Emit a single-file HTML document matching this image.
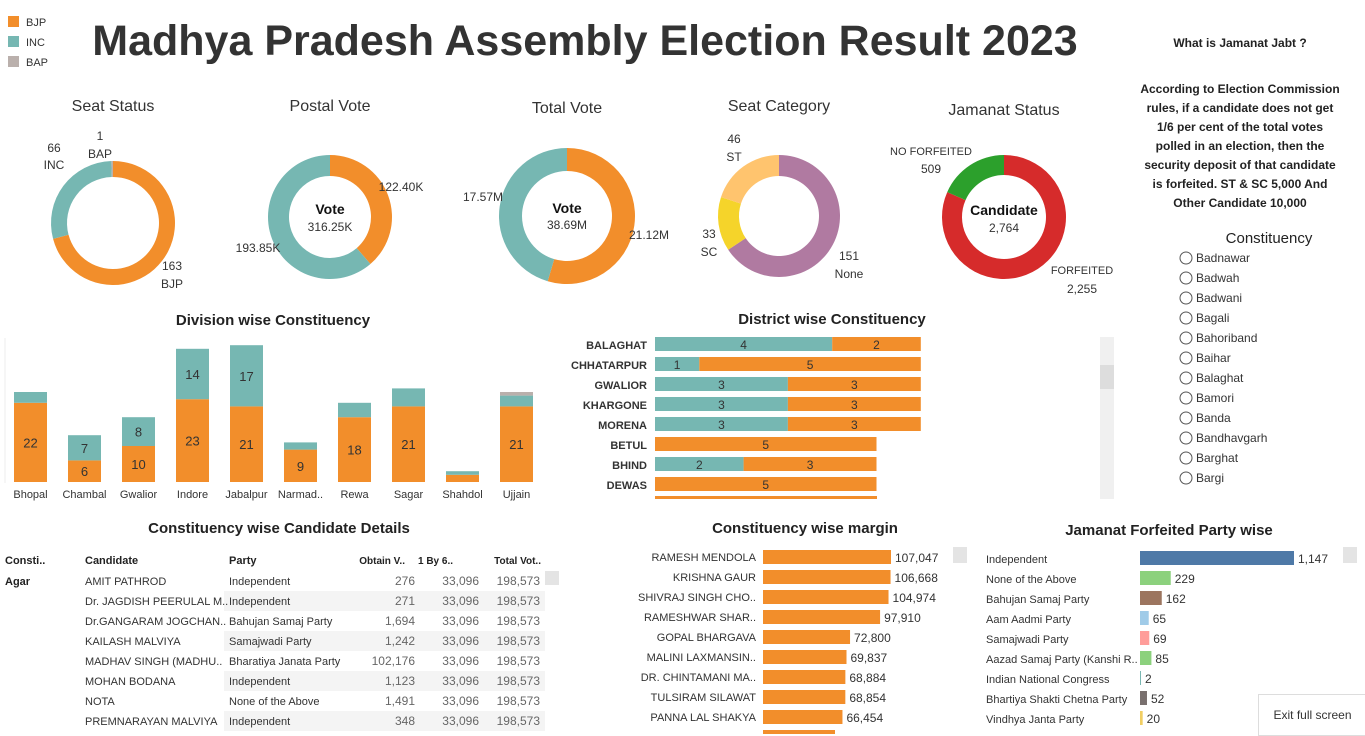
<!DOCTYPE html>
<html><head><meta charset="utf-8"><style>
body{margin:0;width:1365px;height:734px;background:#fff;font-family:"Liberation Sans",sans-serif;position:relative;overflow:hidden;color:#333}
.a{position:absolute}
</style></head><body>
<svg id="s" class="a" style="left:0;top:0" width="1365" height="734"></svg>
<div class="a" style="left:1258px;top:694px;width:107px;height:40px;border:1px solid #ddd;background:#fff;font-size:12px;line-height:40px;text-align:center">Exit full screen</div>
<script>
const divCats=["Bhopal","Chambal","Gwalior","Indore","Jabalpur","Narmad..","Rewa","Sagar","Shahdol","Ujjain"];
const divBJP=[22,6,10,23,21,9,18,21,2,21];
const divINC=[3,7,8,14,17,2,4,5,1,3];
const divBAP=[0,0,0,0,0,0,0,0,0,1];
const distCats=["BALAGHAT","CHHATARPUR","GWALIOR","KHARGONE","MORENA","BETUL","BHIND","DEWAS"];
const distINC=[4,1,3,3,3,0,2,0];
const distBJP=[2,5,3,3,3,5,3,5];
const marNames=["RAMESH MENDOLA","KRISHNA GAUR","SHIVRAJ SINGH CHO..","RAMESHWAR SHAR..","GOPAL BHARGAVA","MALINI LAXMANSIN..","DR. CHINTAMANI MA..","TULSIRAM SILAWAT","PANNA LAL SHAKYA"];
const marVals=[107047,106668,104974,97910,72800,69837,68884,68854,66454];
const jamParties=["Independent","None of the Above","Bahujan Samaj Party","Aam Aadmi Party","Samajwadi Party","Aazad Samaj Party (Kanshi R..","Indian National Congress","Bhartiya Shakti Chetna Party","Vindhya Janta Party"];
const jamVals=[1147,229,162,65,69,85,2,52,20];
const jamColors=["#4e79a7","#8cd17d","#9c755f","#a0cbe8","#ff9d9a","#8cd17d","#79b7b2","#79706e","#f1ce63"];
const seatVals=[163,66,1];
const postalVals=[122.40,193.85];
const totalVals=[21.12,17.57];
const catVals=[151,33,46];
const jamStatus=[2255,509];
const rows=[["AMIT PATHROD","Independent",276],["Dr. JAGDISH PEERULAL M..","Independent",271],["Dr.GANGARAM JOGCHAN..","Bahujan Samaj Party",1694],["KAILASH MALVIYA","Samajwadi Party",1242],["MADHAV SINGH (MADHU..","Bharatiya Janata Party",102176],["MOHAN BODANA","Independent",1123],["NOTA","None of the Above",1491],["PREMNARAYAN MALVIYA","Independent",348]];
const constituencies=["Badnawar","Badwah","Badwani","Bagali","Bahoriband","Baihar","Balaghat","Bamori","Banda","Bandhavgarh","Barghat","Bargi"];
const O="#f28e2b",T="#76b7b2",G="#bab0ac";
const s=document.getElementById('s');const NS="http://www.w3.org/2000/svg";
function el(tag,at,name,txt){const e=document.createElementNS(NS,tag);for(const k in at)e.setAttribute(k,at[k]);


if(txt!==undefined)e.textContent=txt;s.appendChild(e);return e;}
function tx(x,y,t,sz,anc,name,w,col){return el('text',{x,y,'font-size':sz||12,'text-anchor':anc||'start',fill:col||'#333','font-weight':w||'normal'},name||'label',t);}
const fmt=v=>v.toLocaleString('en-US');
tx(585,55,"Madhya Pradesh Assembly Election Result 2023",43,'middle','dashboard-title','bold','#333');
[["BJP",O],["INC",T],["BAP",G]].forEach((l,i)=>{el('rect',{x:8,y:16+i*20,width:11,height:11,fill:l[1]},'legend-swatch-'+l[0]);tx(26,26+i*20,l[0],11,'start','legend-entry-'+l[0]);});
function donut(cx,cy,ro,ri,vals,cols,name,start){const tot=vals.reduce((a,b)=>a+b,0);let a=start||0;vals.forEach((v,i)=>{const a2=a+v/tot*2*Math.PI;const p=(r,t)=>[cx+r*Math.sin(t),cy-r*Math.cos(t)];const L=a2-a>Math.PI?1:0;const[x1,y1]=p(ro,a),[x2,y2]=p(ro,a2),[x3,y3]=p(ri,a2),[x4,y4]=p(ri,a);
el('path',{d:`M${x1},${y1}A${ro},${ro} 0 ${L} 1 ${x2},${y2}L${x3},${y3}A${ri},${ri} 0 ${L} 0 ${x4},${y4}Z`,fill:cols[i]},name+'-slice-'+i);a=a2;});}
tx(113,111,"Seat Status",16,'middle','seat-status-title');
donut(113,223,62,46,seatVals,[O,T,G],'seat-status');
tx(172,270,"163",12,'middle');tx(172,288,"BJP",12,'middle');tx(54,152,"66",12,'middle');tx(54,169,"INC",12,'middle');tx(100,140,"1",12,'middle');tx(100,158,"BAP",12,'middle');
tx(330,111,"Postal Vote",16,'middle','postal-vote-title');
donut(330,217,62,41,postalVals,[O,T],'postal-vote');
tx(330,214,"Vote",14,'middle','','bold','#111');tx(330,231,"316.25K",12,'middle');tx(401,191,"122.40K",12,'middle');tx(258,252,"193.85K",12,'middle');
tx(567,113,"Total Vote",16,'middle','total-vote-title');
donut(567,216,68,45,totalVals,[O,T],'total-vote');
tx(567,213,"Vote",14,'middle','','bold','#111');tx(567,229,"38.69M",12,'middle');tx(649,239,"21.12M",12,'middle');tx(483,201,"17.57M",12,'middle');
tx(779,111,"Seat Category",16,'middle','seat-category-title');
donut(779,216,61,40,catVals,["#b07aa1","#f5d42a","#ffc46e"],'seat-category');
tx(849,260,"151",12,'middle');tx(849,278,"None",12,'middle');tx(709,238,"33",12,'middle');tx(709,256,"SC",12,'middle');tx(734,143,"46",12,'middle');tx(734,161,"ST",12,'middle');
tx(1004,115,"Jamanat Status",16,'middle','jamanat-status-title');
donut(1004,217,62,42,jamStatus,["#d62b2b","#2ca02c"],'jamanat-status');
tx(1004,215,"Candidate",14,'middle','','bold','#111');tx(1004,232,"2,764",12,'middle');tx(931,155,"NO FORFEITED",11,'middle');tx(931,173,"509",12,'middle');tx(1082,274,"FORFEITED",11,'middle');tx(1082,293,"2,255",12,'middle');
tx(1240,47,"What is Jamanat Jabt ?",12,'middle','info-title','bold','#222');
["According to Election Commission","rules, if a candidate does not get","1/6 per cent of the total votes","polled in an election, then the","security deposit of that candidate","is forfeited. ST & SC 5,000 And","Other Candidate 10,000"].forEach((l,i)=>tx(1240,93+i*19,l,12,'middle','info-text','bold','#222'));
tx(1269,243,"Constituency",15,'middle','constituency-filter-title','normal','#222');
constituencies.forEach((c,i)=>{const c1=el('circle',{cx:1186,cy:258+i*20,r:6,fill:'#fff',stroke:'#555'},'radio-'+c);tx(1196,262+i*20,c,12,'start','constituency-option');});
tx(273,325,"Division wise Constituency",15,'middle','division-chart-title','bold','#222');
const dBase=482,dSc=3.6,dX0=14,dStep=54,dW=33;
el('line',{x1:5,y1:338,x2:5,y2:483,stroke:'#eee'},'y-axis');
divCats.forEach((c,i)=>{const x=dX0+i*dStep;let y=dBase;[[divBJP[i],O],[divINC[i],T],[divBAP[i],G]].forEach((p,k)=>{const h=p[0]*dSc;if(!h)return;el('rect',{x,y:y-h,width:dW,height:h,fill:p[1]},'division-bar-'+c);if(p[0]>=6)tx(x+dW/2,y-h/2+5,p[0],13,'middle','bar-value');y-=h;});tx(x+dW/2,498,c,11,'middle','x-axis-label');});
tx(832,324,"District wise Constituency",15,'middle','district-chart-title','bold','#222');
const sX0=655,sSc=44.3;
distCats.forEach((c,i)=>{const y=337+i*20;tx(647,y+12,c,11,'end','district-label','bold','#333');let x=sX0;[[distINC[i],T],[distBJP[i],O]].forEach(p=>{const w=p[0]*sSc;if(!w)return;el('rect',{x,y,width:w,height:14,fill:p[1]},'district-bar-'+c);tx(x+w/2,y+12,p[0],12,'middle','bar-value');x+=w;});});
el('rect',{x:sX0,y:496,width:222,height:3,fill:O},'district-bar-partial');
el('rect',{x:1100,y:337,width:14,height:162,fill:'#f0f0f0'},'district-scrollbar');el('rect',{x:1100,y:365,width:14,height:24,fill:'#ddd'},'district-scroll-thumb');
tx(279,533,"Constituency wise Candidate Details",15,'middle','candidate-table-title','bold','#222');
[["Consti..",5],["Candidate",85],["Party",229]].forEach(h=>tx(h[1],564,h[0],11,'start','table-header','bold','#222'));
tx(405,564,"Obtain V..",10,'end','table-header','bold','#222');tx(418,564,"1 By 6..",10,'start','table-header','bold','#222');tx(541,564,"Total Vot..",10,'end','table-header','bold','#222');
tx(5,585,"Agar",11,'start','constituency-cell','bold','#222');
rows.forEach((r,i)=>{const y=571+i*20;if(i%2==1)el('rect',{x:224,y,width:321,height:20,fill:'#f4f4f4'},'row-band');tx(85,y+14,r[0],11,'start','candidate-cell');tx(229,y+14,r[1],11,'start','party-cell');tx(415,y+14,fmt(r[2]),12,'end','votes-cell','normal','#666');tx(479,y+14,"33,096",12,'end','sixth-cell','normal','#666');tx(540,y+14,"198,573",12,'end','total-cell','normal','#666');});
el('rect',{x:545,y:571,width:14,height:14,fill:'#e4e4e4'},'table-scrollbar');
tx(805,533,"Constituency wise margin",15,'middle','margin-chart-title','bold','#222');
const mX0=763,mSc=128/107047;
marNames.forEach((n,i)=>{const y=550+i*20,w=marVals[i]*mSc;tx(756,y+11,n,11,'end','margin-label');el('rect',{x:mX0,y,width:w,height:14,fill:O},'margin-bar');tx(mX0+w+4,y+12,fmt(marVals[i]),12,'start','margin-value');});
el('rect',{x:763,y:730,width:72,height:4,fill:O},'margin-bar-partial');
el('rect',{x:953,y:547,width:14,height:16,fill:'#e4e4e4'},'margin-scrollbar');
tx(1169,535,"Jamanat Forfeited Party wise",15,'middle','jamanat-party-title','bold','#222');
const jX0=1140,jSc=154/1147;
jamParties.forEach((n,i)=>{const y=551+i*20,w=Math.max(1,jamVals[i]*jSc);tx(986,y+12,n,11,'start','party-label');el('rect',{x:jX0,y,width:w,height:14,fill:jamColors[i]},'party-bar');tx(jX0+w+4,y+12,fmt(jamVals[i]),12,'start','party-value');});
el('rect',{x:1343,y:547,width:14,height:16,fill:'#e4e4e4'},'jamanat-scrollbar');
</script>
</body></html>
